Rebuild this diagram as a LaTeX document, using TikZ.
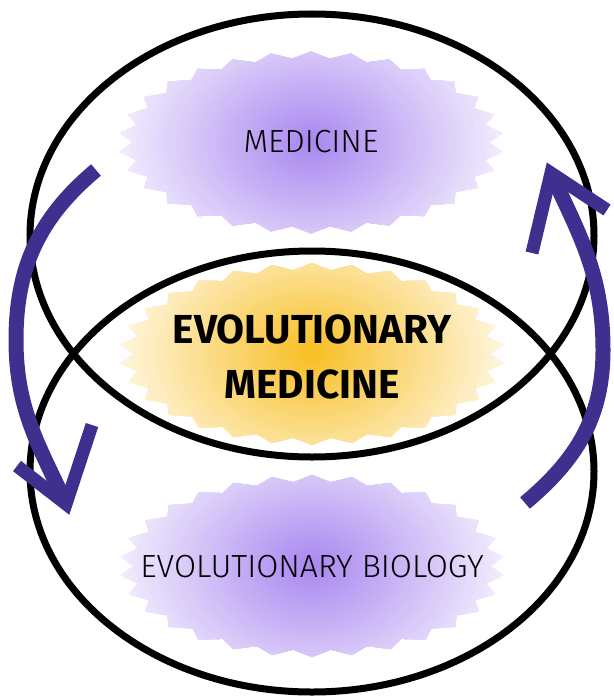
\documentclass[tikz,border=0pt]{standalone}
\usepackage{fontspec}
\setmainfont{Fira Sans}
\newfontfamily\flight{Fira Sans Light}
\usepackage{graphicx}
\definecolor{pcen}{HTML}{A886EF}
\definecolor{pedge}{HTML}{F4F0FE}
\definecolor{ycen}{HTML}{F7BE22}
\definecolor{yedge}{HTML}{FFF7E2}
\definecolor{arrowc}{HTML}{3F2F8E}
% #1 cx, #2 cy, #3 centre colour, #4 edge colour
\newcommand\mkburst[4]{%
  \begin{scope}
    \clip ({#1+193*0.925},#2) \foreach \i in {1,...,59}{ -- ({#1+193*(0.925+0.075*mod(\i,2))*cos(6*\i)},{#2+91*(0.925+0.075*mod(\i,2))*sin(6*\i)})} -- cycle;
    \fill[#4] ({#1-200},{#2-100}) rectangle ({#1+200},{#2+100});
    \foreach \k in {40,...,1}{
      \pgfmathtruncatemacro\p{100*\k/40}
      \fill[#4!\p!#3] (#1,#2) ellipse [x radius=200*\k/40, y radius=150*\k/40];
    }
  \end{scope}}
\tikzset{
  ring/.style={draw=black, line width=7pt},
  lighttext/.style={font=\flight\fontsize{32}{36}\selectfont, text=black, inner sep=0pt},
  boldtext/.style={font=\bfseries\fontsize{40.5}{55}\selectfont, text=black, inner sep=0pt, align=center},
  shaft/.style={draw=arrowc, line width=15pt, line cap=butt},
  barb/.style={draw=arrowc, line width=13pt, line join=miter, line cap=butt},
}
\begin{document}
\begin{tikzpicture}[x=1pt, y=-1pt]
\useasboundingbox (0,0) rectangle (613,698);
% bursts
\mkburst{311}{142.5}{pcen}{pedge}
\mkburst{312}{354}{ycen}{yedge}
\mkburst{312}{566}{pcen}{pedge}
% rings
\path[ring] (312,235.5) ellipse [x radius=282pt, y radius=221.5pt];
\path[ring] (312,471.5) ellipse [x radius=282pt, y radius=220.5pt];
% texts
\node[lighttext, anchor=base] (med) at (311,152) {MEDICINE};
\node[boldtext, anchor=base] (evomed1) at (312,343) {EVOLUTIONARY};
\node[boldtext, anchor=base] (evomed2) at (312,398) {MEDICINE};
\node[lighttext, anchor=base] (evobio) at (312,577) {EVOLUTIONARY BIOLOGY};
% left arrow
\coordinate (lTail) at (96,170);
\coordinate (lMid) at (16,340);
\coordinate (lTip) at (66,504);
\coordinate (lB1) at (17,466);
\coordinate (lB2) at (92,425);
\path[shaft, shorten >=8pt] (lTail) to[out=220, in=90] (lMid) to[out=270, in=115] (lTip);
\path[barb] (lB1) -- (lTip) -- (lB2);
% right arrow
\coordinate (rTail) at (525,503);
\coordinate (rMid) at (603,350);
\coordinate (rTip) at (551,173);
\coordinate (rB1) at (532,253);
\coordinate (rB2) at (607,210);
\path[shaft, shorten >=8pt] (rTail) to[out=40, in=270] (rMid) to[out=90, in=295] (rTip);
\path[barb] (rB1) -- (rTip) -- (rB2);
\end{tikzpicture}
\end{document}
